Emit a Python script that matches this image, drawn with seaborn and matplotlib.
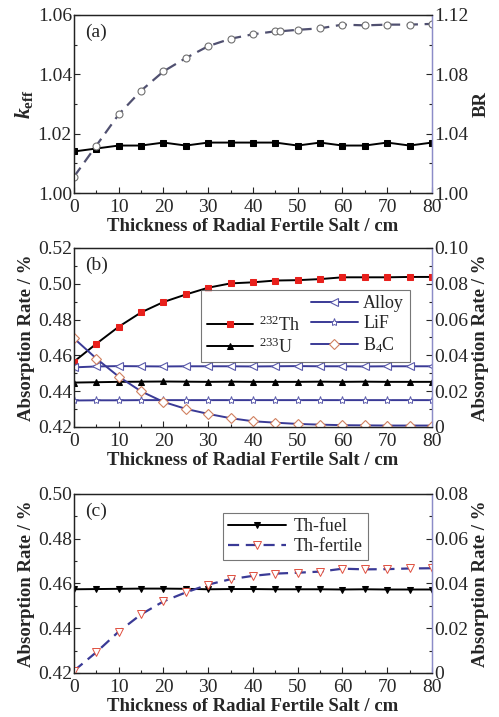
import numpy as np
import pandas as pd
import seaborn as sns
import matplotlib
matplotlib.use('Agg')
import matplotlib.pyplot as plt
from matplotlib.lines import Line2D
from matplotlib.ticker import MultipleLocator

# thickness of radial fertile salt (cm)
thick = [0, 5, 10, 15, 20, 25, 30, 35, 40, 45, 50, 55, 60, 65, 70, 75, 80]
thick_br = [0, 5, 10, 15, 20, 25, 30, 35, 40, 45, 46, 50, 55, 60, 65, 70, 75, 80]

# (a)
keff = [1.014, 1.015, 1.016, 1.016, 1.017, 1.016, 1.017, 1.017, 1.017,
        1.017, 1.016, 1.017, 1.016, 1.016, 1.017, 1.016, 1.017]
br = [1.011, 1.032, 1.053, 1.069, 1.082, 1.091, 1.099, 1.104, 1.107,
      1.109, 1.109, 1.110, 1.111, 1.1135, 1.113, 1.1135, 1.1135, 1.114]

# (b)
th232 = [0.4565, 0.4665, 0.4760, 0.4840, 0.4898, 0.4940, 0.4978, 0.5002, 0.5008,
         0.5018, 0.5020, 0.5026, 0.5036, 0.5036, 0.5036, 0.5038, 0.5038]
u233 = [0.4448, 0.4450, 0.4452, 0.4453, 0.4454, 0.4453, 0.4452, 0.4453, 0.4452,
        0.4452, 0.4452, 0.4453, 0.4452, 0.4453, 0.4452, 0.4452, 0.4452]
alloy = [0.0333, 0.0338, 0.0340, 0.0339, 0.0338, 0.0339, 0.0339, 0.0339, 0.0338,
         0.0339, 0.0340, 0.0339, 0.0339, 0.0338, 0.0339, 0.0339, 0.0339]
lif = [0.0148, 0.0149, 0.0149, 0.0150, 0.0150, 0.0150, 0.0150, 0.0150, 0.0150,
       0.0150, 0.0150, 0.0150, 0.0150, 0.0150, 0.0150, 0.0150, 0.0150]
b4c = [0.0495, 0.0382, 0.0281, 0.0199, 0.0140, 0.0101, 0.0073, 0.0049, 0.0032,
       0.0024, 0.0017, 0.0013, 0.0010, 0.0009, 0.0008, 0.0008, 0.0008]

# (c)
th_fuel = [0.4574, 0.4575, 0.4576, 0.4577, 0.4577, 0.4576, 0.4574, 0.4575, 0.4575,
           0.4574, 0.4574, 0.4574, 0.4573, 0.4574, 0.4573, 0.4573, 0.4573]
th_fertile = [0.0010, 0.0093, 0.0185, 0.0262, 0.0320, 0.0360, 0.0395, 0.0419, 0.0434,
              0.0444, 0.0448, 0.0453, 0.0466, 0.0463, 0.0464, 0.0467, 0.0468]

sns.set_theme(style='ticks')
plt.rcParams['font.family'] = ['Liberation Serif', 'DejaVu Serif']
plt.rcParams['mathtext.fontset'] = 'custom'
plt.rcParams['mathtext.rm'] = 'Liberation Serif'
plt.rcParams['mathtext.it'] = 'Liberation Serif:italic:bold'
plt.rcParams['mathtext.bf'] = 'Liberation Serif:bold'

navy = '#3a3a96'
spine_r = '#8c8cc8'
xlab = 'Thickness of Radial Fertile Salt / cm'
tfs = 14
lfs = 13.5

fig = plt.figure(figsize=(4.99, 7.17), dpi=100)
ax_a = fig.add_axes([0.1483, 0.7308, 0.7174, 0.2483])
ax_b = fig.add_axes([0.1483, 0.4045, 0.7174, 0.2497])
ax_c = fig.add_axes([0.1483, 0.0614, 0.7174, 0.2497])


def style(ax, ax2, ylo, yhi, ymaj, y2lo, y2hi, y2maj, y2fmt):
    ax.set_xlim(0, 80)
    ax.set_ylim(ylo, yhi)
    ax2.set_ylim(y2lo, y2hi)
    ax.xaxis.set_major_locator(MultipleLocator(10))
    ax.xaxis.set_minor_locator(MultipleLocator(5))
    ax.yaxis.set_major_locator(MultipleLocator(ymaj))
    ax.yaxis.set_minor_locator(MultipleLocator(ymaj / 2))
    ax2.yaxis.set_major_locator(MultipleLocator(y2maj))
    ax2.yaxis.set_minor_locator(MultipleLocator(y2maj / 2))
    ax2.yaxis.set_major_formatter(y2fmt)
    for a in (ax, ax2):
        a.tick_params(which='both', direction='in', labelsize=tfs, pad=1.5)
        a.tick_params(which='major', length=4, width=0.8)
        a.tick_params(which='minor', length=2.5, width=0.8)
        for s in a.spines.values():
            s.set_linewidth(0.9)
            s.set_color('#222222')
        a.spines['right'].set_color(spine_r)
    ax.tick_params(axis='x', which='both', pad=4)
    ax.set_xlabel(xlab, fontsize=lfs, fontweight='bold', labelpad=2)


# ---------- (a)
ax_a2 = ax_a.twinx()
sns.lineplot(x=thick, y=keff, ax=ax_a, color='black', lw=1.4, marker='s',
             markersize=5, markeredgecolor='black')
sns.lineplot(x=thick_br, y=br, ax=ax_a2, color='#505070', lw=1.6, linestyle=(0, (5, 3)),
             marker='o', markersize=5, markerfacecolor='white', markeredgecolor='#707070',
             markeredgewidth=0.8)
style(ax_a, ax_a2, 1.00, 1.06, 0.02, 1.00, 1.12, 0.04,
      matplotlib.ticker.FormatStrFormatter('%.2f'))
ax_a.yaxis.set_major_formatter(matplotlib.ticker.FormatStrFormatter('%.2f'))
ax_a.set_ylabel(r'$k_{\mathbf{eff}}$', fontsize=lfs + 2, labelpad=2)
ax_a2.set_ylabel('BR', fontsize=lfs, fontweight='bold', labelpad=3)
ax_a.text(0.03, 0.95, '(a)', transform=ax_a.transAxes, fontsize=tfs, va='top')

# ---------- (b)
ax_b2 = ax_b.twinx()
sns.lineplot(x=thick, y=th232, ax=ax_b, color='black', lw=1.4, marker='s', markersize=5,
             markerfacecolor='#e8201c', markeredgecolor='#e8201c', label=r'$^{232}$Th')
sns.lineplot(x=thick, y=u233, ax=ax_b, color='black', lw=1.4, marker='^', markersize=5,
             markerfacecolor='black', markeredgecolor='black', label=r'$^{233}$U')
sns.lineplot(x=thick, y=alloy, ax=ax_b2, color=navy, lw=1.4, marker='<', markersize=6,
             markerfacecolor='white', markeredgecolor='#5a5aaa', markeredgewidth=0.8,
             label='Alloy')
sns.lineplot(x=thick, y=lif, ax=ax_b2, color=navy, lw=1.4, marker='*', markersize=6,
             markerfacecolor='white', markeredgecolor='#5a5aaa', markeredgewidth=0.7,
             label='LiF')
sns.lineplot(x=thick, y=b4c, ax=ax_b2, color=navy, lw=1.4, marker='D', markersize=5,
             markerfacecolor='white', markeredgecolor='#d08060', markeredgewidth=0.8,
             label=r'B$_4$C')
style(ax_b, ax_b2, 0.42, 0.52, 0.02, 0.0, 0.10, 0.02,
      matplotlib.ticker.FuncFormatter(lambda v, p: '0' if abs(v) < 1e-9 else '%.2f' % v))
ax_b.yaxis.set_major_formatter(matplotlib.ticker.FormatStrFormatter('%.2f'))
ax_b.set_ylabel('Absorption Rate / %', fontsize=lfs, fontweight='bold', labelpad=2)
ax_b2.set_ylabel('Absorption Rate / %', fontsize=lfs, fontweight='bold', labelpad=3)
ax_b.text(0.03, 0.95, '(b)', transform=ax_b.transAxes, fontsize=tfs, va='top')
h1, l1 = ax_b.get_legend_handles_labels()
h2, l2 = ax_b2.get_legend_handles_labels()
ax_b.get_legend().remove()
ax_b2.get_legend().remove()
blank = Line2D([], [], linestyle='none')
leg = ax_b2.legend([blank] + h1 + h2, [''] + l1 + l2, ncol=2, loc='upper left',
                   bbox_to_anchor=(0.355, 0.765), fontsize=13, frameon=True, fancybox=False,
                   handlelength=2.6, handletextpad=0.3, columnspacing=0.6,
                   labelspacing=0.15, borderpad=0.3, borderaxespad=0)
leg.get_frame().set_edgecolor('#555555')
leg.get_frame().set_linewidth(0.8)

# ---------- (c)
ax_c2 = ax_c.twinx()
sns.lineplot(x=thick, y=th_fuel, ax=ax_c, color='black', lw=1.4, marker='v', markersize=5,
             markerfacecolor='black', markeredgecolor='black', label='Th-fuel')
sns.lineplot(x=thick, y=th_fertile, ax=ax_c2, color=navy, lw=1.6, linestyle=(0, (5, 3)),
             marker='v', markersize=6, markerfacecolor='white', markeredgecolor='#e05040',
             markeredgewidth=0.7, label='Th-fertile')
style(ax_c, ax_c2, 0.42, 0.50, 0.02, 0.0, 0.08, 0.02,
      matplotlib.ticker.FuncFormatter(lambda v, p: '0' if abs(v) < 1e-9 else '%.2f' % v))
ax_c.yaxis.set_major_formatter(matplotlib.ticker.FormatStrFormatter('%.2f'))
ax_c.set_ylabel('Absorption Rate / %', fontsize=lfs, fontweight='bold', labelpad=2)
ax_c2.set_ylabel('Absorption Rate / %', fontsize=lfs, fontweight='bold', labelpad=3)
ax_c.text(0.03, 0.95, '(c)', transform=ax_c.transAxes, fontsize=tfs, va='top')
h1, l1 = ax_c.get_legend_handles_labels()
h2, l2 = ax_c2.get_legend_handles_labels()
ax_c.get_legend().remove()
ax_c2.get_legend().remove()
leg = ax_c2.legend(h1 + h2, l1 + l2, loc='upper left', bbox_to_anchor=(0.416, 0.894),
                   fontsize=13, frameon=True, fancybox=False, handlelength=3.2,
                   handletextpad=0.4, labelspacing=0.15, borderpad=0.3, borderaxespad=0)
leg.get_frame().set_edgecolor('#555555')
leg.get_frame().set_linewidth(0.8)

fig.savefig('out.png', dpi=100)
